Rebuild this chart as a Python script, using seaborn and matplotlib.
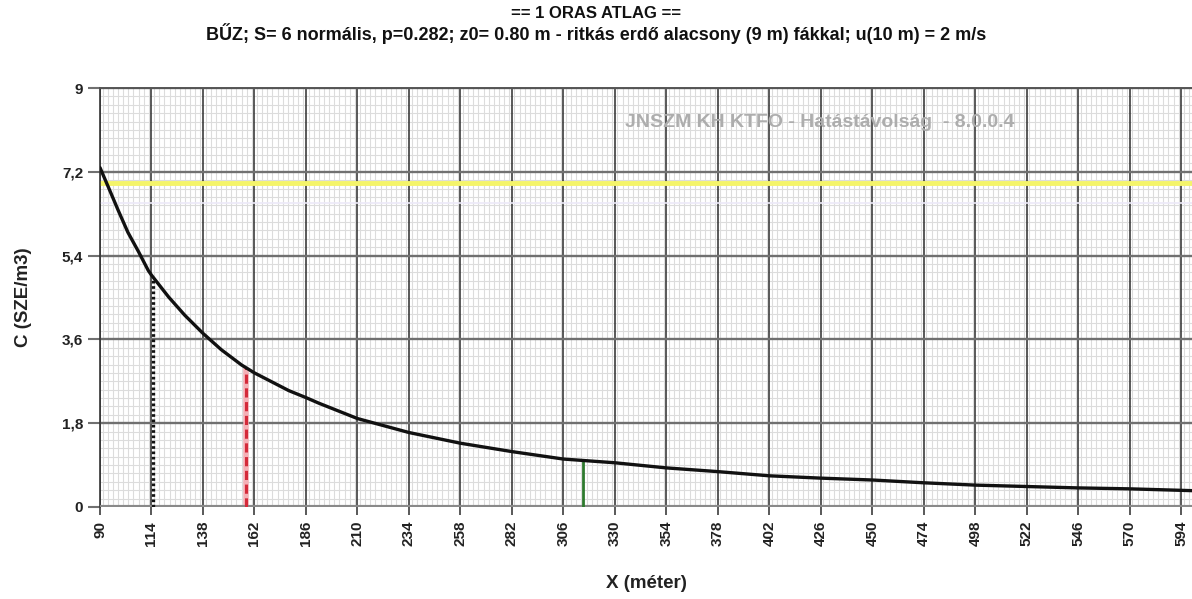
import numpy as np
import pandas as pd
import matplotlib
matplotlib.use("Agg")
import matplotlib.pyplot as plt
from matplotlib.ticker import MultipleLocator, FixedLocator, FuncFormatter
import seaborn as sns

# ---- data ----
dist_m = [90, 94, 98.5, 103, 108, 112.5, 114, 122, 129.5, 138, 146.5, 156, 162,
          178, 186, 192, 210, 234, 258, 282, 306, 330, 354, 378, 402, 426, 450,
          474, 498, 522, 546, 570, 600]
conc = [7.29, 6.86, 6.37, 5.90, 5.48, 5.08, 4.98, 4.51, 4.12, 3.73, 3.38, 3.05,
        2.88, 2.50, 2.35, 2.23, 1.90, 1.60, 1.37, 1.19, 1.03, 0.95, 0.84, 0.76,
        0.67, 0.62, 0.58, 0.52, 0.47, 0.44, 0.41, 0.39, 0.35]

limit_level = 6.95          # yellow threshold line
limit_level2 = 6.52         # faint lavender line
marker_x = [114.5, 158.2, 315]  # vertical marker distances
marker_top = [4.90, 2.98, 1.00]

x_ticks = list(range(90, 595, 24))
y_ticks = [0, 1.8, 3.6, 5.4, 7.2, 9]

title1 = "== 1 ORAS ATLAG =="
title2 = "BŰZ; S= 6 normális, p=0.282; z0= 0.80 m - ritkás erdő alacsony (9 m) fákkal; u(10 m) = 2 m/s"
watermark = "JNSZM KH KTFO - Hatástávolság  - 8.0.0.4"
x_label = "X (méter)"
y_label = "C (SZE/m3)"

df = pd.DataFrame({"x": dist_m, "c": conc})

sns.set_theme(style="white")
plt.rcParams['font.family'] = ['Liberation Sans', 'DejaVu Sans']

fig = plt.figure(figsize=(11.92, 5.99), dpi=100)
ax = fig.add_axes([100 / 1192, 1 - 507 / 599, 1 - 100 / 1192, (507 - 88) / 599])

ax.set_xlim(90, 599)
ax.set_ylim(0, 9)
ax.xaxis.set_major_locator(FixedLocator(x_ticks))
ax.xaxis.set_minor_locator(MultipleLocator(2.4))
ax.yaxis.set_major_locator(FixedLocator(y_ticks))
ax.yaxis.set_minor_locator(MultipleLocator(0.18))

# minor grid (light)
ax.grid(which="minor", axis="both", color="#dcdcdc", linewidth=0.8, zorder=0)
ax.grid(which="major", visible=False)
ax.set_axisbelow(True)
# major grid lines drawn above the minor grid, positions from tick lists
ax.vlines(x_ticks, 0, 9, color="#2b2b2b", linewidth=1.1, zorder=1)
ax.hlines(y_ticks, 90, 599, color="#707070", linewidth=1.7, zorder=1)

# threshold lines
ax.axhline(limit_level, color="#f4f46a", linewidth=3.5, zorder=2)
ax.axhline(limit_level2, color="#ece9f8", linewidth=1.2, zorder=2)

# curve
sns.lineplot(data=df, x="x", y="c", ax=ax, color="#111111", linewidth=2.4, zorder=5)

# vertical markers
ax.vlines(marker_x[0], 0, marker_top[0], color="#111111", linewidth=2.4,
          linestyles=(0, (0.8, 0.8)), zorder=4)
ax.vlines(marker_x[1], 0, marker_top[1], color="#f4b0b6", linewidth=4.0, zorder=3)
ax.vlines(marker_x[1], 0, marker_top[1], color="#d42a3a", linewidth=2.2,
          linestyles=(0, (3, 1.5)), zorder=4)
ax.vlines(marker_x[2], 0, marker_top[2], color="#2e7a2e", linewidth=2.0, zorder=4)

# base line at zero
ax.axhline(0, color="#8a8a8a", linewidth=3.0, zorder=3)

for s in ["right", "bottom"]:
    ax.spines[s].set_visible(False)
ax.spines["left"].set_color("#333333")
ax.spines["left"].set_linewidth(1.2)
ax.spines["top"].set_color("#555555")
ax.spines["top"].set_linewidth(1.4)

# ticks
ax.yaxis.set_major_formatter(FuncFormatter(lambda v, p: ("%g" % v).replace(".", ",")))
ax.tick_params(axis="x", which="major", bottom=True, length=6, width=1.1, color="#2b2b2b",
               labelrotation=90, labelsize=11, pad=4)
ax.tick_params(axis="y", which="major", left=True, length=9, width=1.5, color="#707070",
               labelsize=11, pad=3)
ax.tick_params(which="minor", length=0)
for lbl in ax.get_xticklabels() + ax.get_yticklabels():
    lbl.set_fontweight("bold")
    lbl.set_color("#222222")

ax.set_xlabel(x_label, fontsize=13.5, fontweight="bold", color="#222222")
ax.set_ylabel(y_label, fontsize=13.5, fontweight="bold", color="#222222")
ax.xaxis.set_label_coords(0.5, -0.163)
ax.yaxis.set_label_coords(-0.062, 0.5)

# titles
fig.text(0.5, 1 - 14 / 599, title1, ha="center", va="center", fontsize=12, fontweight="bold", color="#111111")
fig.text(0.5, 1 - 34 / 599, title2, ha="center", va="center", fontsize=13, fontweight="bold", color="#111111")

# watermark
ax.text(0.481, 0.918, watermark, transform=ax.transAxes, ha="left", va="center",
        fontsize=14, fontweight="bold", color="#adadad", zorder=6)

fig.savefig("out.png", dpi=100)
